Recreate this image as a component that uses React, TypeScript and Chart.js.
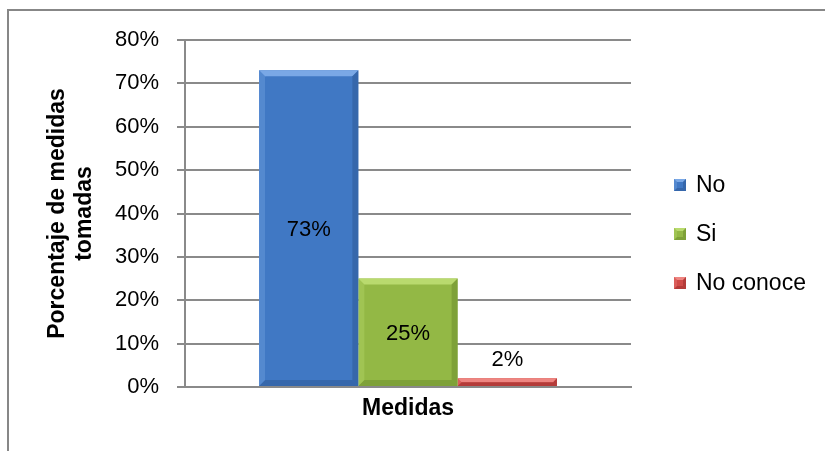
import React, { useEffect, useRef } from "react";
import { Chart, registerables } from "chart.js";

Chart.register(...registerables);

const categories = [""];
const seriesLabels = ["No", "Si", "No conoce"];
const seriesValues = [[73], [25], [2]];
const seriesColors = ["#4078C4", "#93B845", "#D04B48"];
const seriesLight = ["#7AA8E6", "#B9DA6E", "#EE8581"];
const seriesDark = ["#2D5A98", "#6E8E2E", "#9C2F2D"];
const yTicks = [0, 10, 20, 30, 40, 50, 60, 70, 80];
const yTitle = ["Porcentaje de medidas", "tomadas"];
const xTitle = "Medidas";

const FONT = "'Liberation Sans', Arial, sans-serif";

function drawBevel(ctx: any, x0: number, y0: number, x1: number, y1: number, di: number, maxB: number) {
  const b = Math.min(maxB, (y1 - y0) / 2, (x1 - x0) / 2);
  ctx.save();
  ctx.fillStyle = seriesLight[di];
  ctx.beginPath();
  ctx.moveTo(x0, y0);
  ctx.lineTo(x1, y0);
  ctx.lineTo(x1 - b, y0 + b);
  ctx.lineTo(x0 + b, y0 + b);
  ctx.closePath();
  ctx.fill();
  ctx.fillStyle = seriesDark[di];
  ctx.globalAlpha = 0.55;
  ctx.beginPath();
  ctx.moveTo(x1, y0);
  ctx.lineTo(x1, y1);
  ctx.lineTo(x1 - b, y1 - b);
  ctx.lineTo(x1 - b, y0 + b);
  ctx.closePath();
  ctx.fill();
  ctx.beginPath();
  ctx.moveTo(x0, y1);
  ctx.lineTo(x1, y1);
  ctx.lineTo(x1 - b, y1 - b);
  ctx.lineTo(x0 + b, y1 - b);
  ctx.closePath();
  ctx.fill();
  ctx.globalAlpha = 0.35;
  ctx.fillStyle = seriesLight[di];
  ctx.beginPath();
  ctx.moveTo(x0, y0);
  ctx.lineTo(x0, y1);
  ctx.lineTo(x0 + b, y1 - b);
  ctx.lineTo(x0 + b, y0 + b);
  ctx.closePath();
  ctx.fill();
  ctx.restore();
}

const bevelPlugin = {
  id: "bevel",
  afterDatasetsDraw(chart: any) {
    const ctx = chart.ctx;
    chart.data.datasets.forEach((ds: any, di: number) => {
      const meta = chart.getDatasetMeta(di);
      meta.data.forEach((bar: any) => {
        const w = bar.width;
        drawBevel(
          ctx,
          bar.x - w / 2,
          Math.min(bar.y, bar.base),
          bar.x + w / 2,
          Math.max(bar.y, bar.base),
          di,
          6
        );
      });
    });
  },
};

const labelPlugin = {
  id: "valueLabels",
  afterDatasetsDraw(chart: any) {
    const ctx = chart.ctx;
    ctx.save();
    ctx.font = `22px ${FONT}`;
    ctx.fillStyle = "#000";
    ctx.textAlign = "center";
    ctx.textBaseline = "middle";
    chart.data.datasets.forEach((ds: any, di: number) => {
      const meta = chart.getDatasetMeta(di);
      meta.data.forEach((bar: any, i: number) => {
        const v = ds.data[i];
        const h = Math.abs(bar.base - bar.y);
        const y = h > 30 ? (bar.y + bar.base) / 2 + 2 : bar.y - 18;
        ctx.fillText(`${v}%`, bar.x, y);
      });
    });
    ctx.restore();
  },
};

// Legend drawn to the right of the plot area, entries taken from the datasets
const legendPlugin = {
  id: "sideLegend",
  afterDraw(chart: any) {
    const ctx = chart.ctx;
    const area = chart.chartArea;
    const boxX = area.right + 43;
    const firstY = 185;
    const step = 49;
    const box = 12;
    ctx.save();
    ctx.font = `23px ${FONT}`;
    ctx.fillStyle = "#000";
    ctx.textAlign = "left";
    ctx.textBaseline = "middle";
    chart.data.datasets.forEach((ds: any, di: number) => {
      const cy = firstY + di * step;
      ctx.fillStyle = ds.backgroundColor;
      ctx.fillRect(boxX, cy - box / 2, box, box);
      drawBevel(ctx, boxX, cy - box / 2, boxX + box, cy + box / 2, di, 3);
      ctx.fillStyle = "#000";
      ctx.fillText(ds.label, boxX + box + 10, cy + 1);
    });
    ctx.restore();
  },
};

export default function App() {
  const ref = useRef<HTMLCanvasElement>(null);

  useEffect(() => {
    if (!ref.current) return;
    Chart.defaults.font.family = FONT;
    Chart.defaults.color = "#000";
    const chart = new Chart(ref.current, {
      type: "bar",
      data: {
        labels: categories,
        datasets: seriesLabels.map((label, i) => ({
          label,
          data: seriesValues[i],
          backgroundColor: seriesColors[i],
          borderWidth: 0,
          categoryPercentage: 0.668,
          barPercentage: 1,
        })),
      },
      options: {
        animation: false,
        responsive: false,
        maintainAspectRatio: false,
        layout: { padding: { top: 40, left: 20, right: 194, bottom: 23 } },
        plugins: {
          tooltip: { enabled: false },
          legend: { display: false },
        },
        scales: {
          x: {
            grid: { display: false, drawTicks: false },
            border: { display: true, color: "#8A8A8A", width: 2 },
            ticks: { display: false },
            title: {
              display: true,
              text: xTitle,
              color: "#000",
              font: { size: 23, weight: "bold", family: FONT, lineHeight: 1.15 },
              padding: { top: 8.3, bottom: 6.25 },
            },
            afterFit: (s: any) => {
              s.height = 41;
            },
          },
          y: {
            min: 0,
            max: 80,
            afterBuildTicks: (s: any) => {
              s.ticks = yTicks.map((v) => ({ value: v }));
            },
            grid: { color: "#8A8A8A", lineWidth: 2, drawTicks: true, tickLength: 8 },
            border: { display: true, color: "#8A8A8A", width: 2 },
            ticks: {
              padding: 18,
              color: "#000",
              font: { size: 22, family: FONT },
              callback: (v: any) => `${v}%`,
            },
            title: {
              display: true,
              text: yTitle,
              color: "#000",
              font: { size: 23, weight: "bold", family: FONT, lineHeight: 1.15 },
              padding: { top: 24.8, bottom: 0 },
            },
            afterFit: (s: any) => {
              s.width = 185 - 20;
            },
          },
        },
      },
      plugins: [bevelPlugin, labelPlugin, legendPlugin],
    } as any);
    return () => chart.destroy();
  }, []);

  return (
    <div
      style={{
        position: "fixed",
        left: 0,
        top: 0,
        width: 825,
        height: 451,
        overflow: "hidden",
        background: "#fff",
      }}
    >
      <div
        style={{
          position: "absolute",
          left: 7,
          top: 9,
          width: 900,
          height: 600,
          borderTop: "2px solid #878787",
          borderLeft: "2px solid #878787",
        }}
      />
      <canvas
        ref={ref}
        width={825}
        height={451}
        style={{ position: "absolute", left: 0, top: 0, width: 825, height: 451 }}
      />
    </div>
  );
}
